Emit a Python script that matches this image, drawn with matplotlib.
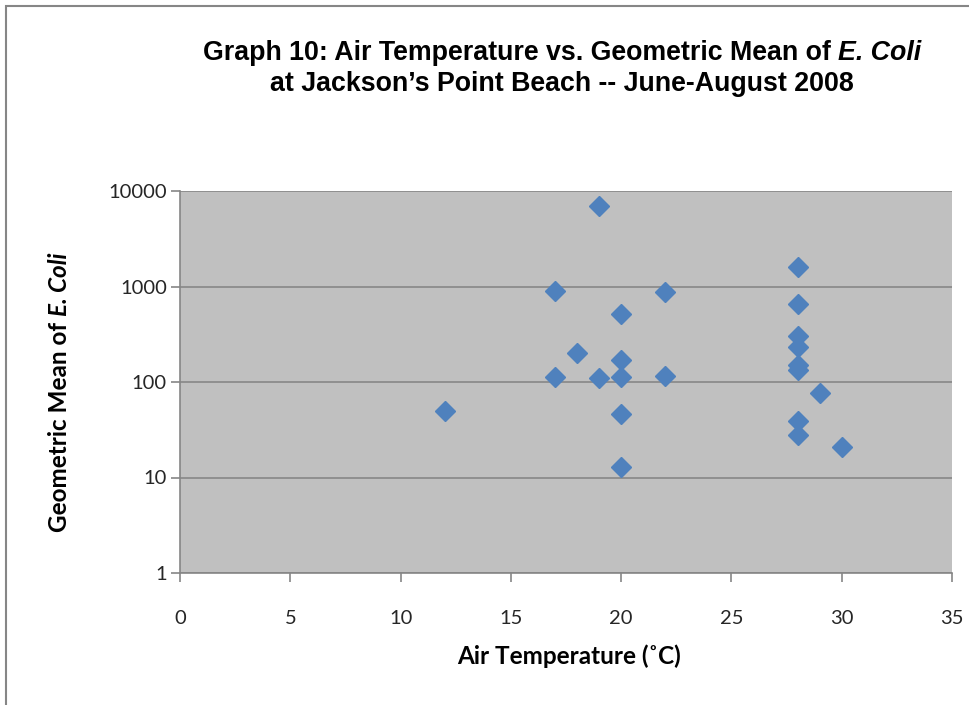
import numpy as np
import matplotlib
matplotlib.use('Agg')
import matplotlib.pyplot as plt
from matplotlib.patches import Rectangle

# Data
temp = [12, 17, 17, 18, 19, 19, 20, 20, 20, 20, 20, 22, 22,
        28, 28, 28, 28, 28, 28, 28, 28, 29, 30]
ecoli = [50, 900, 113, 200, 7000, 110, 515, 170, 112, 46, 13, 875, 115,
         1600, 650, 300, 230, 150, 133, 39, 28, 76, 21]

x_ticks = [0, 5, 10, 15, 20, 25, 30, 35]
y_ticks = [1, 10, 100, 1000, 10000]

W, H = 969, 705
fig = plt.figure(figsize=(W / 100, H / 100), dpi=100)
renderer = fig.canvas.get_renderer()


def mixed_text(pieces, cx, cy, rotation=0, **kw):
    """Draw (text, style) pieces one after the other, centred at cx, cy (pixels)."""
    texts, lengths = [], []
    for s, st in pieces:
        t = fig.text(0, 0, s, fontstyle=st, rotation=rotation,
                     ha='left', va='baseline', rotation_mode='anchor', **kw)
        bb = t.get_window_extent(renderer)
        texts.append(t)
        lengths.append(bb.height if rotation else bb.width)
    #width of a space
    sp = fig.text(0, 0, 'a a', **kw)
    sp2 = fig.text(0, 0, 'aa', **kw)
    space = sp.get_window_extent(renderer).width - sp2.get_window_extent(renderer).width
    sp.remove()
    sp2.remove()
    total = sum(lengths) + space * (len(pieces) - 1)
    pos = -total / 2
    for t, L in zip(texts, lengths):
        if rotation:
            t.set_position((cx / W, (cy + pos) / H))
        else:
            t.set_position(((cx + pos) / W, cy / H))
        pos += L + space


# outer chart border
fig.patches.append(Rectangle((6 / W, -0.1), 1.2, 1 - 6 / H + 0.1,
                             transform=fig.transFigure, fill=False,
                             edgecolor='#868686', linewidth=1.5))

ax = fig.add_axes([180 / W, 1 - 573 / H, (952 - 180) / W, (573 - 191) / H])
ax.set_facecolor('#C0C0C0')

ax.set_yscale('log')
ax.set_xlim(0, 35)
ax.set_ylim(1, 10000)
ax.set_xticks(x_ticks)
ax.set_yticks(y_ticks)
ax.set_yticklabels([str(v) for v in y_ticks])
ax.set_xticklabels([str(v) for v in x_ticks])
ax.yaxis.set_minor_locator(matplotlib.ticker.NullLocator())

#gridlines
ax.grid(axis='y', color='#878787', linewidth=1.2)
ax.set_axisbelow(True)

ax.plot(temp, ecoli, linestyle='none', marker='D', markersize=10,
        color='#4F81BD', markeredgecolor='#4F81BD', zorder=3)

for s in ['top', 'right']:
    ax.spines[s].set_visible(False)
for s in ['left', 'bottom']:
    ax.spines[s].set_color('#868686')
    ax.spines[s].set_linewidth(1.2)

ax.tick_params(axis='both', direction='out', length=6.5, color='#868686',
               labelsize=14.5, labelcolor='#262626', width=1.2)
ax.tick_params(axis='x', pad=20)
ax.tick_params(axis='y', pad=3)
for lab in ax.get_xticklabels() + ax.get_yticklabels():
    lab.set_family('Lato')

# axis labels
lab_kw = dict(fontsize=17.5, fontweight='bold', family='Lato', color='black')
mixed_text([('Air Temperature (˚C)', 'normal')], 569, H - 658 - 6, **lab_kw)
mixed_text([('Geometric Mean of', 'normal'), ('E. Coli', 'italic')],
           67, H - 392, rotation=90, **lab_kw)

# title
title_kw = dict(fontsize=19.3, fontweight='bold', family='Liberation Sans',
                color='black')
mixed_text([('Graph 10: Air Temperature vs. Geometric Mean of', 'normal'),
            ('E. Coli', 'italic')], 562, H - 60, **title_kw)
mixed_text([('at Jackson\u2019s Point Beach -- June-August 2008', 'normal')],
           562, H - 91, **title_kw)

fig.savefig('out.png', dpi=100)
